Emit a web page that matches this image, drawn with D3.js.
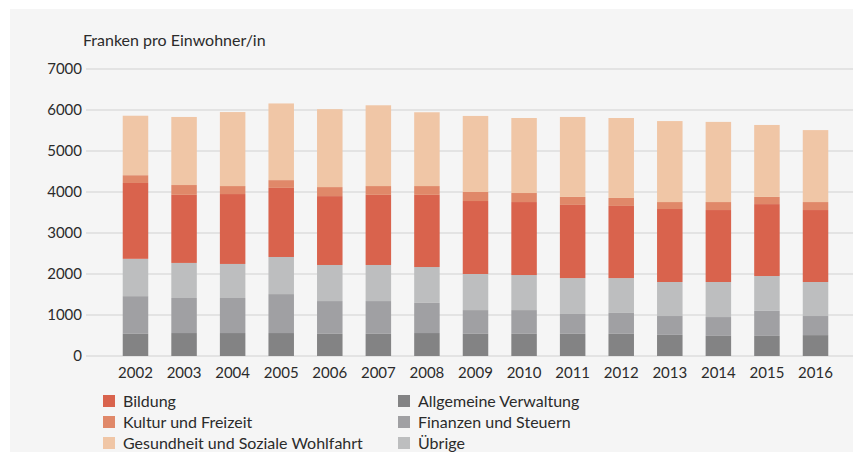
<!DOCTYPE html>
<html>
<head>
<meta charset="utf-8">
<script src="https://cdn.jsdelivr.net/npm/d3@7"></script>
<style>
  html, body { margin: 0; padding: 0; background: #ffffff; }
  svg { display: block; }
  text { font-family: Lato, "Open Sans", sans-serif; fill: #2b2b2b; }
</style>
</head>
<body>
<svg id="chart" width="853" height="452"></svg>
<script>
const years = ["2002","2003","2004","2005","2006","2007","2008","2009","2010","2011","2012","2013","2014","2015","2016"];
const allgemeineVerwaltung = [540,560,560,560,540,540,560,540,540,540,540,515,490,490,510];
const finanzenSteuern      = [920,855,855,950,800,800,735,580,580,485,510,460,460,610,465];
const uebrige              = [910,855,830,905,880,880,875,880,855,875,850,830,855,850,830];
const bildung              = [1850,1660,1705,1685,1680,1710,1760,1780,1780,1785,1760,1780,1755,1755,1755];
const kulturFreizeit       = [190,240,195,190,220,215,215,220,220,195,195,170,195,175,195];
const gesundheitSoziales   = [1450,1660,1805,1870,1900,1970,1800,1855,1830,1950,1950,1975,1955,1755,1755];
const yTicks = [0,1000,2000,3000,4000,5000,6000,7000];
const yAxisTitle = "Franken pro Einwohner/in";

const series = [
  {key: "Allgemeine Verwaltung", values: allgemeineVerwaltung, color: "#838384"},
  {key: "Finanzen und Steuern", values: finanzenSteuern, color: "#a0a0a3"},
  {key: "Übrige", values: uebrige, color: "#bdbebf"},
  {key: "Bildung", values: bildung, color: "#d9634d"},
  {key: "Kultur und Freizeit", values: kulturFreizeit, color: "#e08869"},
  {key: "Gesundheit und Soziale Wohlfahrt", values: gesundheitSoziales, color: "#f0c6a6"}
];

const table = years.map((y, i) => {
  const row = {year: y};
  series.forEach(s => row[s.key] = s.values[i]);
  return row;
});

const svg = d3.select("#chart");
svg.append("rect").attr("x", 10).attr("y", 9).attr("width", 843).attr("height", 443).attr("fill", "#f5f5f5");

const x = d3.scaleBand().domain(years).range([111.2, 839.8]).paddingInner(0.475).paddingOuter(0.2375);
const y = d3.scaleLinear().domain([0, 7000]).range([356, 69]);

// grid
svg.append("g").selectAll("line").data(yTicks).join("line")
  .attr("x1", 86).attr("x2", 853)
  .attr("y1", d => y(d)).attr("y2", d => y(d))
  .attr("stroke", "#dcdcdc").attr("stroke-width", 1.5);

// y labels
svg.append("g").selectAll("text").data(yTicks).join("text")
  .attr("x", 82).attr("y", d => y(d)).attr("dy", "0.35em")
  .attr("text-anchor", "end").attr("font-size", 15)
  .text(d => d);

svg.append("text").attr("x", 83).attr("y", 46).attr("font-size", 16).text(yAxisTitle);

// stacks
const stack = d3.stack().keys(series.map(s => s.key));
const stacked = stack(table);
svg.append("g").selectAll("g").data(stacked).join("g")
  .attr("fill", (d, i) => series[i].color)
  .selectAll("rect").data(d => d).join("rect")
  .attr("x", d => x(d.data.year))
  .attr("width", x.bandwidth())
  .attr("y", d => y(d[1]))
  .attr("height", d => y(d[0]) - y(d[1]));

// x labels
svg.append("g").selectAll("text").data(years).join("text")
  .attr("x", d => x(d) + x.bandwidth() / 2).attr("y", 378)
  .attr("text-anchor", "middle").attr("font-size", 15)
  .text(d => d);

// legend
const legendOrder = [
  {s: series[3], col: 0, row: 0},
  {s: series[4], col: 0, row: 1},
  {s: series[5], col: 0, row: 2},
  {s: series[0], col: 1, row: 0},
  {s: series[1], col: 1, row: 1},
  {s: series[2], col: 1, row: 2}
];
const lg = svg.append("g").selectAll("g").data(legendOrder).join("g")
  .attr("transform", d => `translate(${d.col ? 398 : 103},${395 + d.row * 21})`);
lg.append("rect").attr("width", 12).attr("height", 12).attr("fill", d => d.s.color);
lg.append("text").attr("x", 20).attr("y", 6).attr("dy", "0.35em").attr("font-size", 16).text(d => d.s.key);
</script>
</body>
</html>
